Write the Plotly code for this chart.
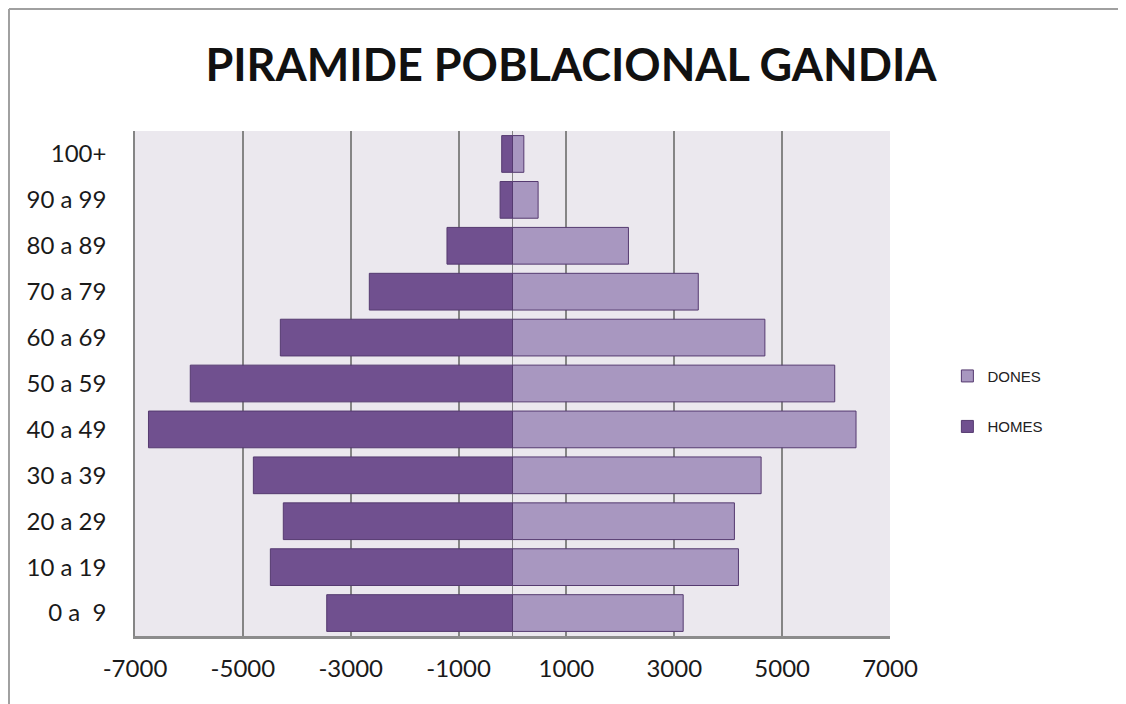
import plotly.graph_objects as go

# grups d'edat (de baix a dalt)
edats = ["0 a\u00a0 9", "10 a 19", "20 a 29", "30 a 39", "40 a 49", "50 a 59",
         "60 a 69", "70 a 79", "80 a 89", "90 a 99", "100+"]
homes = [-3445, -4490, -4250, -4805, -6750, -5975, -4305, -2655, -1215, -230, -200]
dones = [3165, 4190, 4115, 4610, 6370, 5975, 4680, 3445, 2150, 475, 210]
ticks = [-7000, -5000, -3000, -1000, 1000, 3000, 5000, 7000]

fig = go.Figure()
fig.add_trace(go.Bar(y=edats, x=homes, orientation="h", name="HOMES",
                     legendgroup="h", legendrank=2,
                     marker=dict(color="#70508f", line=dict(color="#553a70", width=1))))
fig.add_trace(go.Bar(y=edats, x=dones, orientation="h", name="DONES",
                     legendgroup="d", legendrank=1,
                     marker=dict(color="#a897c0", line=dict(color="#553a70", width=1))))

fig.update_layout(
    width=1126, height=704,
    barmode="relative", bargap=0.2,
    paper_bgcolor="white", plot_bgcolor="#ebe8ee",
    margin=dict(l=127, r=244, t=123, b=76),
    font=dict(family="Lato, Noto Sans, sans-serif", color="#1a1a1a"),
    title=dict(text="<b>PIRAMIDE POBLACIONAL GANDIA</b>", x=0.5, xanchor="center",
               y=0.919, yanchor="middle", font=dict(size=45, color="#111")),
    xaxis=dict(range=[-7000, 7000], tickvals=ticks, ticktext=[str(t) for t in ticks],
               showgrid=True, gridcolor="#858585", gridwidth=1.5,
               zeroline=True, zerolinecolor="#858585", zerolinewidth=1,
               showline=True, linecolor="#8c8c8c", linewidth=2.5, mirror=False,
               tickfont=dict(size=24), ticks="", ticklabelstandoff=9, automargin=False),
    yaxis=dict(showgrid=False, showline=True, linecolor="#858585", linewidth=1.5,
               tickfont=dict(size=24), ticks="", ticklabelstandoff=22, automargin=False),
    legend=dict(x=1.076, y=0.465, xanchor="left", yanchor="middle",
                traceorder="grouped", tracegroupgap=28,
                font=dict(family="Liberation Sans, Arial", size=15, color="#222"),
                itemwidth=30, bgcolor="rgba(0,0,0,0)"),
    shapes=[
        dict(type="line", xref="paper", yref="paper",
             x0=-0.1669, x1=-0.1669, y0=-0.2, y1=1.2416,
             line=dict(color="#a0a0a0", width=2)),
        dict(type="line", xref="paper", yref="paper",
             x0=-0.1669, x1=1.4, y0=1.2416, y1=1.2416,
             line=dict(color="#a0a0a0", width=2)),
    ],
)

fig.write_html("out.html")
